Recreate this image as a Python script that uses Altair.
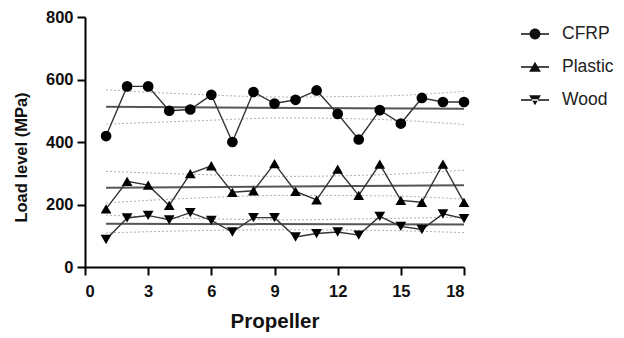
import altair as alt
import pandas as pd

propeller = list(range(1, 19))
cfrp = [419, 578, 578, 500, 504, 551, 400, 560, 523, 535, 565, 490, 408, 502, 459, 541, 528, 528]
plastic = [186, 274, 262, 197, 299, 324, 239, 244, 331, 242, 215, 313, 229, 329, 213, 207, 329, 207]
wood = [88, 157, 165, 151, 174, 149, 112, 158, 158, 96, 107, 112, 102, 162, 130, 120, 170, 155]

series_names = ["CFRP", "Plastic", "Wood"]

# confidence band readings (dotted lines)
band_x = [1, 5, 9.5, 14, 18]
cfrp_upper = [567, 553, 544, 547, 562]
cfrp_lower = [457, 467, 477, 472, 456]
plastic_upper = [306, 297, 290, 295, 310]
plastic_lower = [205, 220, 229, 228, 217]
wood_upper = [166, 156, 151, 155, 160]
wood_lower = [109, 116, 119, 117, 110]

rows = []
for name, vals in zip(series_names, [cfrp, plastic, wood]):
    for x, y in zip(propeller, vals):
        rows.append({"x": x, "y": y, "series": name})
df = pd.DataFrame(rows)

brows = []
for name, vals in [("CFRP up", cfrp_upper), ("CFRP lo", cfrp_lower),
                   ("Plastic up", plastic_upper), ("Plastic lo", plastic_lower),
                   ("Wood up", wood_upper), ("Wood lo", wood_lower)]:
    for x, y in zip(band_x, vals):
        brows.append({"x": x, "y": y, "band": name})
bdf = pd.DataFrame(brows)

xenc = alt.X("x:Q", scale=alt.Scale(domain=[0, 18], nice=False),
             axis=alt.Axis(values=[0, 3, 6, 9, 12, 15, 18], title="Propeller"))
yenc = alt.Y("y:Q", scale=alt.Scale(domain=[0, 800], nice=False),
             axis=alt.Axis(values=[0, 200, 400, 600, 800], title="Load level (MPa)",
                           titleY=140))

base = alt.Chart(df)

bands = alt.Chart(bdf).mark_line(color="#b0b0b0", strokeWidth=1, strokeDash=[2, 2],
                                 interpolate="monotone").encode(x=xenc, y=yenc, detail="band:N")

reg = base.transform_regression("x", "y", groupby=["series"]).mark_line(
    color="#555555", strokeWidth=2).encode(x=xenc, y=yenc, detail="series:N")

lines = base.mark_line(color="#333333", strokeWidth=1.4).encode(x=xenc, y=yenc, detail="series:N")

points = base.mark_point(filled=True, color="black", opacity=1, size=115).encode(
    x=xenc, y=yenc,
    shape=alt.Shape("series:N", scale=alt.Scale(domain=series_names,
                                                range=["circle", "triangle-up", "triangle-down"]),
                    legend=None))

bar = "M-1,-0.05H1V0.05H-1Z"
circle_path = bar + "M0.39,0A0.39,0.39,0,1,1,-0.39,0A0.39,0.39,0,1,1,0.39,0Z"
up_path = bar + "M0,-0.38L0.42,0.34L-0.42,0.34Z"
down_path = bar + "M0,0.38L0.42,-0.34L-0.42,-0.34Z"

legend_layer = base.transform_filter("false").mark_point(
    filled=True, color="#111111", opacity=1).encode(
    x=xenc, y=yenc,
    shape=alt.Shape("series:N", scale=alt.Scale(domain=series_names,
                                                range=[circle_path, up_path, down_path]),
                    legend=alt.Legend(title=None, orient="none", legendX=435, legendY=2,
                                      symbolSize=784, labelFontSize=17.5, labelFont="Liberation Sans",
                                      labelColor="#222222", labelOffset=12, rowPadding=9,
                                      symbolFillColor="#111111", symbolOpacity=1)))

chart = alt.layer(bands, reg, lines, points, legend_layer).resolve_scale(
    shape="independent"
).properties(
    width=379, height=250,
    autosize=alt.AutoSizeParams(type="none"),
    padding={"left": 77, "top": 9, "right": 152, "bottom": 71},
).configure_view(stroke=None).configure_axis(
    grid=False, domainColor="black", domainWidth=2, tickColor="black", tickWidth=2,
    tickSize=8, labelFont="Liberation Sans", labelFontWeight="bold", labelFontSize=16.5,
    labelColor="#111111", titleFont="Liberation Sans", titleFontWeight="bold",
    titleColor="#111111"
).configure_axisX(
    labelPadding=8, titleFontSize=20.5, titlePadding=12
).configure_axisY(
    labelPadding=4, titleFontSize=16.5, titlePadding=16
)

chart.save("out.html", embed_options={"renderer": "svg", "actions": False})
